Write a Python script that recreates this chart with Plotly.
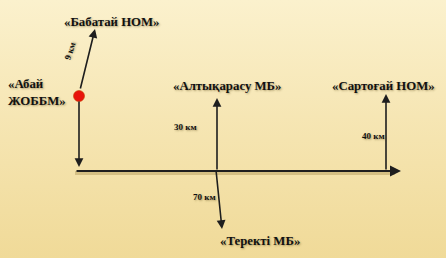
import plotly.graph_objects as go

# ---- data ----
places = ["«Бабатай НОМ»", "«Абай<br>ЖОББМ»", "«Алтықарасу МБ»", "«Сартоғай НОМ»", "«Теректі МБ»"]
distances = ["9 км", "30 км", "40 км", "70 км"]

# ---- layout positions (pixel space of the 446x258 canvas) ----
W, H = 446, 258
start = (79, 96)           # Abai school (red dot)
axis_y = 171
axis_x0, axis_x1 = 75, 401
arrows = [
    # (tail_x, tail_y, head_x, head_y)
    (80, 90, 95, 29),      # to Babatai
    (79, 100, 79, 167),    # down to main road
    (217, 171, 217, 98),   # to Altyqarasu
    (386, 171, 386, 94),   # to Sartogai
    (216, 170, 222, 229),  # to Terekti
]
place_pos = [(112, 22, "center"), (6, 92, "left"), (227, 86, "center"), (383, 86, "center"), (260, 241, "center")]
dist_pos = [(70, 51, -72), (185, 127, 0), (373, 136, 0), (204, 197, 0)]

fig = go.Figure()

# background gradient
fig.add_trace(go.Scatter(
    x=[0, W, W, 0, 0], y=[0, 0, H, H, 0], mode="lines", fill="toself",
    line=dict(width=0), hoverinfo="skip", showlegend=False,
    fillgradient=dict(type="vertical", colorscale=[[0, "#F0DA98"], [0.55, "#F6E6B4"], [1, "#FBF1CD"]]),
))

shapes = []
# subtle vertical stripes
for i in range(0, W, 11):
    shapes.append(dict(type="rect", xref="x", yref="y", x0=i, x1=i + 5, y0=0, y1=H,
                       fillcolor="rgba(255,250,225,0.4)", line=dict(width=0), layer="below"))

# main road shadow
fig.add_trace(go.Scatter(x=[axis_x0, axis_x1 - 6], y=[axis_y + 2, axis_y + 2], mode="lines",
                         line=dict(color="rgba(120,90,20,0.25)", width=4), hoverinfo="skip", showlegend=False))

annotations = []
# main horizontal arrow
annotations.append(dict(x=axis_x1, y=axis_y, ax=axis_x0, ay=axis_y, xref="x", yref="y", axref="x", ayref="y",
                        text="", showarrow=True, arrowhead=2, arrowsize=1.0, arrowwidth=2.2, arrowcolor="#1e1e1e"))
for (tx, ty, hx, hy) in arrows:
    annotations.append(dict(x=hx, y=hy, ax=tx, ay=ty, xref="x", yref="y", axref="x", ayref="y",
                            text="", showarrow=True, arrowhead=2, arrowsize=1.1, arrowwidth=1.6, arrowcolor="#1e1e1e"))

shadow = "1px 1px 2px rgba(90,70,20,0.45)"
serif = "Liberation Serif, Times New Roman, DejaVu Serif, serif"
for name, (px, py, al) in zip(places, place_pos):
    annotations.append(dict(x=px, y=py, xref="x", yref="y", text="<b>" + name + "</b>", showarrow=False,
                            xanchor=al, yanchor="middle", align="left",
                            font=dict(family=serif, size=12.8, color="#111111", shadow=shadow)))
for d, (px, py, ang) in zip(distances, dist_pos):
    annotations.append(dict(x=px, y=py, xref="x", yref="y", text="<b>" + d + "</b>", showarrow=False,
                            textangle=ang, xanchor="center", yanchor="middle",
                            font=dict(family=serif, size=9, color="#111111", shadow=shadow)))

# red dot at the start
fig.add_trace(go.Scatter(x=[start[0]], y=[start[1]], mode="markers",
                         marker=dict(size=11, color="#E8140C", line=dict(color="rgba(200,60,0,0.6)", width=1)),
                         hoverinfo="skip", showlegend=False))

fig.update_layout(
    width=W, height=H, margin=dict(l=0, r=0, t=0, b=0),
    paper_bgcolor="#F6E6B4", plot_bgcolor="#F6E6B4",
    font=dict(family=serif),
    xaxis=dict(range=[0, W], visible=False, fixedrange=True),
    yaxis=dict(range=[H, 0], visible=False, fixedrange=True),
    shapes=shapes, annotations=annotations, showlegend=False,
)
fig.write_html("out.html", config={"displayModeBar": False},
               post_script="document.body.style.margin='0';document.body.style.overflow='hidden';")
